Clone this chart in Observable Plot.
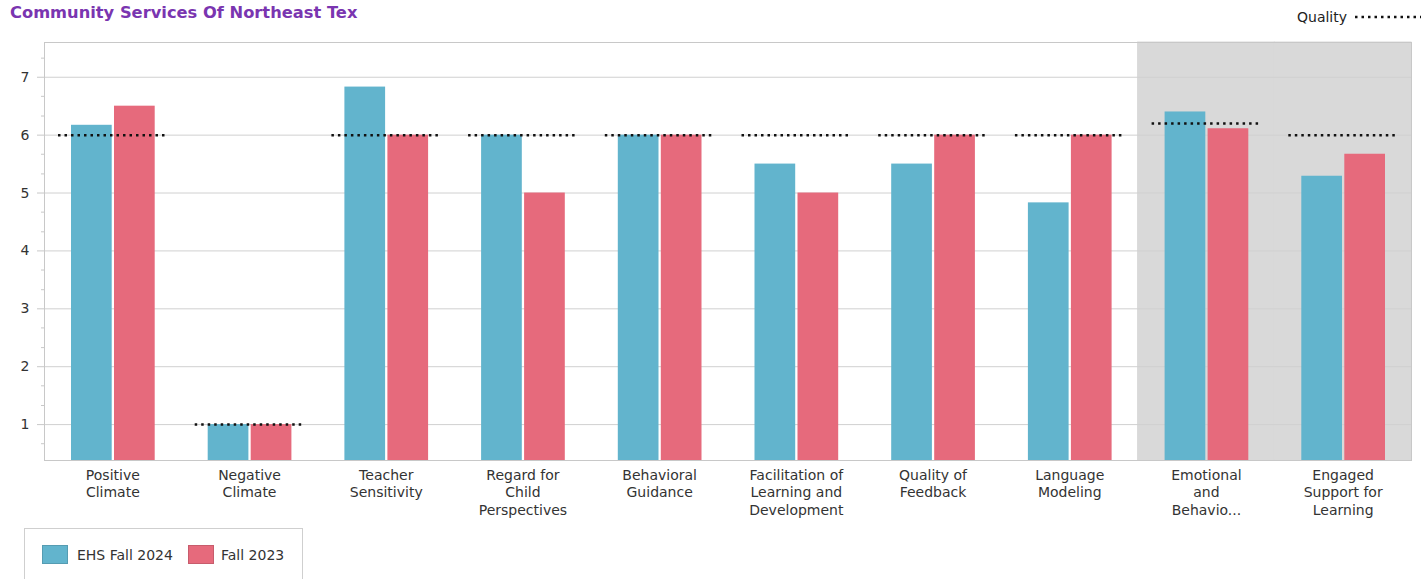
<!DOCTYPE html>
<html><head><meta charset="utf-8">
<script src="https://cdn.jsdelivr.net/npm/d3@7"></script>
<script src="https://cdn.jsdelivr.net/npm/@observablehq/plot@0.6"></script>
<style>
body{margin:0;background:#fff;font-family:"DejaVu Sans",sans-serif;}
#wrap{position:relative;width:1423px;height:579px;overflow:hidden;}
#title{position:absolute;left:10px;top:5px;font-weight:bold;font-size:16.3px;line-height:16px;color:#7a35b0;white-space:nowrap;}
#qlegend{position:absolute;left:1297px;top:10px;font-size:14px;line-height:14px;color:#222;white-space:nowrap;}
#qlegend svg{position:absolute;left:58px;top:2px;}
#chart{position:absolute;left:0;top:30px;}
#legend{position:absolute;left:24px;top:528px;width:279px;height:60px;border:1px solid #cfcfcf;box-sizing:border-box;}
.sw{position:absolute;top:16px;width:26px;height:19px;box-sizing:border-box;}
.lt{position:absolute;top:19px;font-size:14px;line-height:14px;color:#333;white-space:nowrap;}
</style></head>
<body>
<div id="wrap">
  <div id="title">Community Services Of Northeast Tex</div>
  <div id="qlegend">Quality<svg width="70" height="10"><line x1="0" y1="5" x2="66" y2="5" stroke="#111" stroke-width="2.5" stroke-dasharray="2.5,4"/></svg></div>
  <div id="chart"></div>
  <div id="legend"></div>
</div>
<script>
const categories = ["Positive Climate","Negative Climate","Teacher Sensitivity","Regard for Child Perspectives","Behavioral Guidance","Facilitation of Learning and Development","Quality of Feedback","Language Modeling","Emotional and Behavioral Support","Engaged Support for Learning"];
const tickLabels = ["Positive\nClimate","Negative\nClimate","Teacher\nSensitivity","Regard for\nChild\nPerspectives","Behavioral\nGuidance","Facilitation of\nLearning and\nDevelopment","Quality of\nFeedback","Language\nModeling","Emotional\nand\nBehavio...","Engaged\nSupport for\nLearning"];
const ehsFall2024 = [6.17, 1, 6.83, 6, 6, 5.5, 5.5, 4.83, 6.4, 5.29];
const fall2023 = [6.5, 1, 6, 5, 6, 5, 6, 6, 6.11, 5.67];
const quality = [6, 1, 6, 6, 6, 6, 6, 6, 6.2, 6];
const highlighted = ["Emotional and Behavioral Support","Engaged Support for Learning"];
const seriesNames = ["EHS Fall 2024","Fall 2023"];
const seriesColors = ["#62b4cd","#e66a7c"];
const yMajorTicks = [1,2,3,4,5,6,7];
const yMinorTicks = [0.67,1.33,1.67,2.33,2.67,3.33,3.67,4.33,4.67,5.33,5.67,6.33,6.67,7.33];

const rows = categories.map((c,i)=>({cat:c, ehs:ehsFall2024[i], fall:fall2023[i], q:quality[i]}));

const plot = Plot.plot({
  width:1423, height:495,
  marginTop:12, marginBottom:65, marginLeft:44, marginRight:12,
  style:{fontFamily:"DejaVu Sans", fontSize:"14px", color:"#333", background:"transparent"},
  x:{domain:categories, padding:0, round:false, axis:null, label:null},
  y:{domain:[0.38,7.6], axis:null, label:null},
  marks:[
    Plot.cell(highlighted, {x:d=>d, fill:"#d9d9d9", stroke:"#d9d9d9", strokeWidth:1}),
    Plot.gridY(yMajorTicks, {stroke:"#d0d0d0", strokeOpacity:1}),
    Plot.barY(rows, {x:"cat", y:"ehs", fill:seriesColors[0], insetLeft:27, insetRight:69, clip:true}),
    Plot.barY(rows, {x:"cat", y:"fall", fill:seriesColors[1], insetLeft:70, insetRight:26, clip:true}),
    Plot.tickY(rows, {x:"cat", y:"q", stroke:"#111", strokeWidth:2.5, strokeDasharray:"2.5,4", insetLeft:14, insetRight:14}),
    Plot.frame({stroke:"#c8c8c8"}),
    Plot.axisY(yMajorTicks, {tickSize:7, tickPadding:8, stroke:"#c8c8c8", fill:"#333", fontSize:14, tickFormat:d3.format("d"), label:null}),
    Plot.axisY(yMinorTicks, {tickSize:3, stroke:"#c8c8c8", tickFormat:()=>"", label:null}),
    Plot.axisX({tickSize:0, tickPadding:7, fill:"#333", fontSize:14, lineHeight:1.25, label:null, tickFormat:d=>tickLabels[categories.indexOf(d)]})
  ]
});
document.getElementById("chart").appendChild(plot);

const lg = document.getElementById("legend");
const swLeft = [17, 163];
const txtLeft = [52, 196];
seriesNames.forEach((n,i)=>{
  const s = document.createElement("div");
  s.className = "sw";
  s.style.left = swLeft[i]+"px";
  s.style.background = seriesColors[i];
  s.style.border = "1px solid " + d3.color(seriesColors[i]).darker(0.4);
  lg.appendChild(s);
  const t = document.createElement("div");
  t.className = "lt";
  t.style.left = txtLeft[i]+"px";
  t.textContent = n;
  lg.appendChild(t);
});
</script>
</body></html>
